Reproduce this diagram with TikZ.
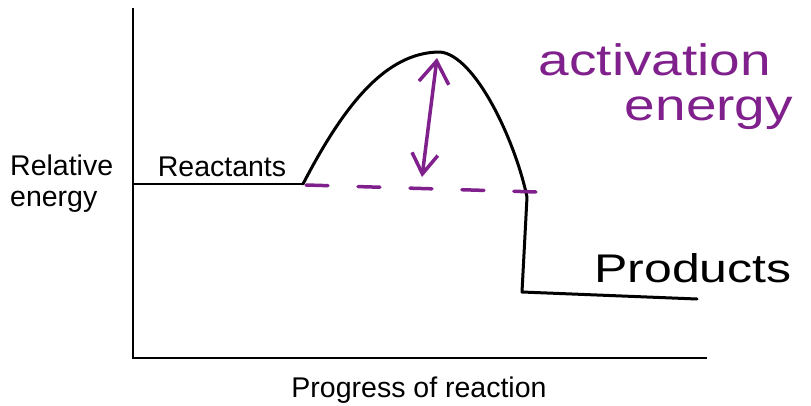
\documentclass[tikz,border=0pt]{standalone}
\usepackage{fontspec}
\setmainfont{Liberation Sans}
\newfontfamily\handfont[FakeStretch=1.25]{Liberation Sans}
\usepackage{xcolor}
\usepackage{tikz}
\usetikzlibrary{arrows.meta}
\definecolor{actpurple}{RGB}{128,32,140}

\begin{document}
\begin{tikzpicture}[
    x=1pt, y=-1pt,
    every node/.style={font=\fontsize{28.5}{31}\selectfont, inner sep=0pt},
    axis/.style={draw, line width=2pt},
    curve/.style={draw, line width=3pt, line cap=round, line join=round},
    purp/.style={draw=actpurple, line width=3.5pt, line cap=round},
    hand/.style={font=\handfont\fontsize{44}{48}\selectfont}
]
\useasboundingbox (0,0) rectangle (811,405);

% axes
\coordinate (ytop) at (133,8);
\coordinate (origin) at (133,358);
\coordinate (xend) at (707,358);
\draw[axis] (ytop) -- (origin) -- (xend);

\node[align=left, anchor=base west] (relative) at (10,206) {Relative\\energy};
\node[anchor=base] (progress) at (419,397) {Progress of reaction};

% energy profile
\coordinate (rstart) at (133,184);
\coordinate (rend) at (303,184);
\coordinate (peak) at (440,52);
\coordinate (drop) at (527,197);
\coordinate (pstart) at (522,292);
\coordinate (pend) at (697,299);
\node[anchor=base] (reactants) at (222,176) {Reactants};
\draw[axis] (rstart) -- (rend);
\draw[curve] (rend) .. controls (343,107) and (385,52) .. (peak)
    .. controls (475,55) and (515,140) .. (drop) -- (pstart) -- (pend);
\node[hand, text=black, font=\handfont\fontsize{40}{44}\selectfont, anchor=base] (products) at (693,282) {Products};

% activation energy
\coordinate (dstart) at (306,185);
\coordinate (dend) at (537,192);
\draw[purp, dash pattern=on 22pt off 30pt] (dstart) -- (dend);
\coordinate (eatop) at (437,58);
\coordinate (eabot) at (422,177);
\draw[purp, {Straight Barb[length=22pt,width=30pt]}-{Straight Barb[length=20pt,width=26pt]}] (eatop) -- (eabot);
\node[hand, text=actpurple, anchor=base] (activation) at (655,75) {activation};
\node[hand, text=actpurple, anchor=base] (energy) at (709,120) {energy};
\end{tikzpicture}
\end{document}
